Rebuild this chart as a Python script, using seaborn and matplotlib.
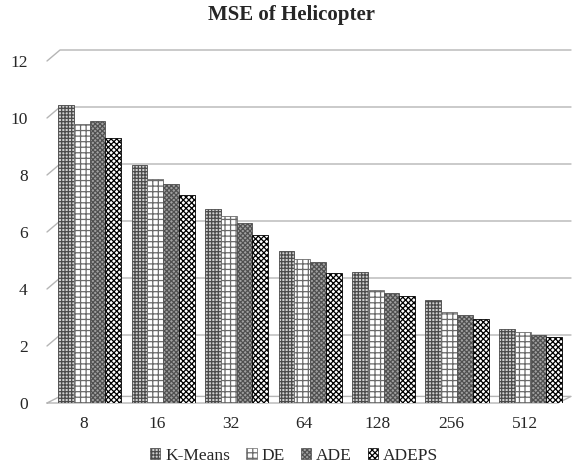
import numpy as np
import pandas as pd
import matplotlib
matplotlib.use("Agg")
import matplotlib.pyplot as plt
import matplotlib.transforms as mtransforms
from matplotlib.patches import Patch
import seaborn as sns

categories = ["8", "16", "32", "64", "128", "256", "512"]
series_names = ["K-Means", "DE", "ADE", "ADEPS"]
kmeans = [10.45, 8.35, 6.8, 5.35, 4.6, 3.6, 2.6]
de = [9.8, 7.85, 6.55, 5.05, 3.95, 3.2, 2.5]
ade = [9.9, 7.7, 6.3, 4.95, 3.85, 3.1, 2.4]
adeps = [9.3, 7.3, 5.9, 4.55, 3.75, 2.95, 2.3]
y_ticks = [0, 2, 4, 6, 8, 10, 12]

df = pd.DataFrame({
    "size": categories * 4,
    "series": sum([[s] * len(categories) for s in series_names], []),
    "mse": kmeans + de + ade + adeps,
})

sns.set_theme(style="white")
plt.rcParams['font.family'] = ['Liberation Serif', 'DejaVu Serif']
plt.rcParams['hatch.linewidth'] = 0.9

W, H = 577, 470
fig = plt.figure(figsize=(W / 100, H / 100), dpi=100)
ax_l, ax_r, ax_b, ax_t = 47, 571, 403, 61
ax = fig.add_axes([ax_l / W, 1 - ax_b / H, (ax_r - ax_l) / W, (ax_b - ax_t) / H])

styles = {
    "K-Means": dict(fc="#d0d0d0", ec="#4a4a4a", hatch="+++++"),
    "DE": dict(fc="#ffffff", ec="#6a6a6a", hatch="+++"),
    "ADE": dict(fc="#a0a0a0", ec="#505050", hatch="xxxxxxx"),
    "ADEPS": dict(fc="#ffffff", ec="#000000", hatch="xxxxxx"),
}

sns.barplot(data=df, x="size", y="mse", hue="series", order=categories,
            hue_order=series_names, ax=ax, width=0.86, gap=0.0,
            palette=["#cccccc"] * 4, legend=False, zorder=3)

for cont, name in zip(ax.containers, series_names):
    st = styles[name]
    for p in cont.patches:
        p.set_facecolor(st["fc"])
        p.set_edgecolor(st["ec"])
        p.set_hatch(st["hatch"])
        p.set_linewidth(0.6)

ax.set_xlim(-0.58, 6.55)
ax.set_ylim(0, 12)
ax.set_yticks(y_ticks)
ax.set_yticklabels([str(t) for t in y_ticks], fontsize=12.5)
ax.tick_params(axis="x", labelsize=12.5, length=0, pad=9)
ax.tick_params(axis="y", length=0, pad=14)
ax.set_xlabel("")
ax.set_ylabel("")
for s in ["top", "right", "left", "bottom"]:
    ax.spines[s].set_visible(False)

# shift x tick labels slightly left (perspective look)
off = mtransforms.ScaledTranslation(-6 / 100, 0, fig.dpi_scale_trans)
for lbl in ax.get_xticklabels():
    lbl.set_transform(lbl.get_transform() + off)

# pseudo-3D gridlines: short slant from the front to the back wall
tr = ax.get_yaxis_transform()
dx = 13 / (ax_r - ax_l)
dy = 11 / ((ax_b - ax_t) / 12)
gc = "#b5b5b5"
for t in y_ticks:
    if t == 0:
        continue
    ax.plot([0, dx, 1], [t, t + dy, t + dy], color=gc, lw=1.0,
            transform=tr, clip_on=False, zorder=0)
# floor
xr = 1 - dx
ax.plot([0, dx, 1, xr, 0], [0, dy * 0.6, dy * 0.6, 0, 0], color=gc, lw=1.0,
        transform=tr, clip_on=False, zorder=1)

fig.text(291 / W, 1 - 15 / H, "MSE of Helicopter", fontsize=15,
         fontweight="bold", ha="center", va="center")

handles = [Patch(facecolor=styles[n]["fc"], edgecolor=styles[n]["ec"],
                 hatch=styles[n]["hatch"], linewidth=0.5) for n in series_names]
fig.legend(handles, series_names, loc="lower center", ncol=4, frameon=False,
           fontsize=12.5, bbox_to_anchor=(0.51, -0.02), handlelength=0.6,
           handleheight=0.6, handletextpad=0.3, columnspacing=0.9)

fig.savefig("out.png", dpi=100)
